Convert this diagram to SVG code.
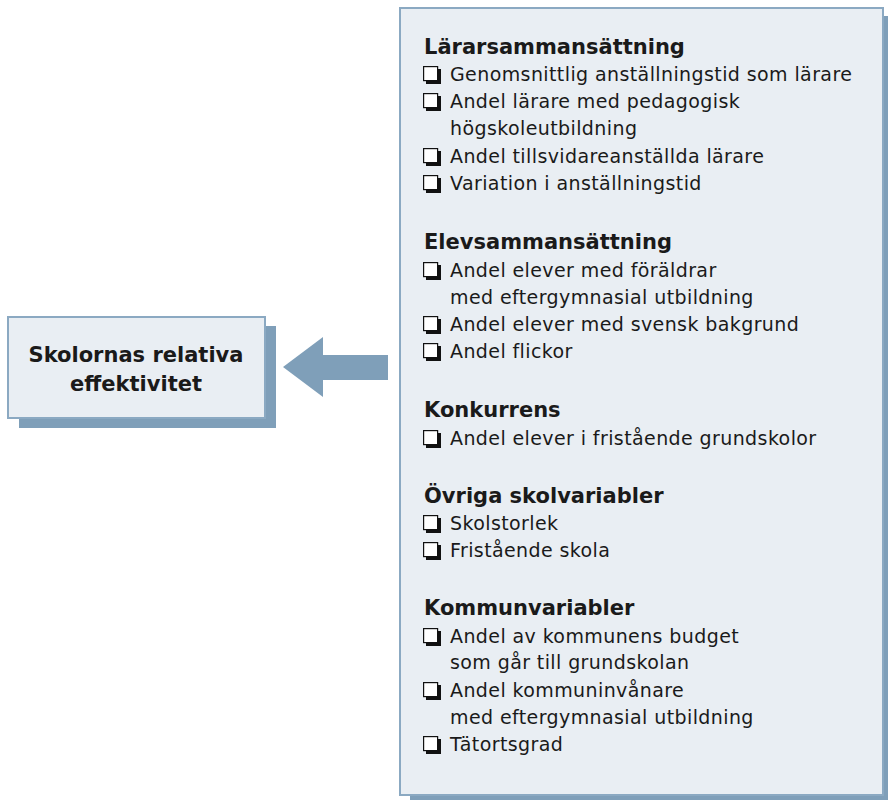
<svg xmlns="http://www.w3.org/2000/svg" width="888" height="800" viewBox="0 0 888 800">
<style>
.h{font-family:"DejaVu Sans","Liberation Sans",Arial,sans-serif;font-weight:bold;font-size:21px;fill:#1a1a1a}
.t{font-family:"DejaVu Sans","Liberation Sans",Arial,sans-serif;font-size:19px;fill:#1a1a1a;letter-spacing:0.4px}
.shadow{fill:#7f9fb9}
.box{fill:#e9eef3;stroke:#8ba9c2;stroke-width:2}
</style>
<defs>
<g id="cb">
<rect x="3" y="3" width="15" height="15" fill="#111"/>
<rect x="0.6" y="0.6" width="14" height="14" fill="#fff" stroke="#111" stroke-width="1.2"/>
</g>
</defs>
<g id="result">
<rect class="shadow" x="19" y="326" width="257" height="102"/>
<rect class="box" x="8" y="317" width="257" height="101"/>
<text class="h" x="136" y="362" text-anchor="middle">Skolornas relativa</text>
<text class="h" x="136" y="391" text-anchor="middle">effektivitet</text>
</g>
<g id="connectors">
<polygon class="shadow" points="283,367 323,337 323,355 388,355 388,380 323,380 323,397"/>
</g>
<g id="factors">
<rect class="shadow" x="410" y="16" width="488" height="794"/>
<rect class="box" x="400" y="8" width="483" height="787"/>
<text class="h" x="424" y="54">Lärarsammansättning</text>
<use href="#cb" x="423" y="66"/><text class="t" x="450" y="81">Genomsnittlig anställningstid som lärare</text>
<use href="#cb" x="423" y="93"/><text class="t" x="450" y="108">Andel lärare med pedagogisk</text>
<text class="t" x="450" y="135">högskoleutbildning</text>
<use href="#cb" x="423" y="148"/><text class="t" x="450" y="163">Andel tillsvidareanställda lärare</text>
<use href="#cb" x="423" y="175"/><text class="t" x="450" y="190">Variation i anställningstid</text>
<text class="h" x="424" y="249">Elevsammansättning</text>
<use href="#cb" x="423" y="262"/><text class="t" x="450" y="277">Andel elever med föräldrar</text>
<text class="t" x="450" y="304">med eftergymnasial utbildning</text>
<use href="#cb" x="423" y="316"/><text class="t" x="450" y="331">Andel elever med svensk bakgrund</text>
<use href="#cb" x="423" y="343"/><text class="t" x="450" y="358">Andel flickor</text>
<text class="h" x="424" y="417">Konkurrens</text>
<use href="#cb" x="423" y="430"/><text class="t" x="450" y="445">Andel elever i fristående grundskolor</text>
<text class="h" x="424" y="503">Övriga skolvariabler</text>
<use href="#cb" x="423" y="515"/><text class="t" x="450" y="530">Skolstorlek</text>
<use href="#cb" x="423" y="542"/><text class="t" x="450" y="557">Fristående skola</text>
<text class="h" x="424" y="615">Kommunvariabler</text>
<use href="#cb" x="423" y="628"/><text class="t" x="450" y="643">Andel av kommunens budget</text>
<text class="t" x="450" y="669">som går till grundskolan</text>
<use href="#cb" x="423" y="682"/><text class="t" x="450" y="697">Andel kommuninvånare</text>
<text class="t" x="450" y="724">med eftergymnasial utbildning</text>
<use href="#cb" x="423" y="736"/><text class="t" x="450" y="751">Tätortsgrad</text>
</g>
</svg>
